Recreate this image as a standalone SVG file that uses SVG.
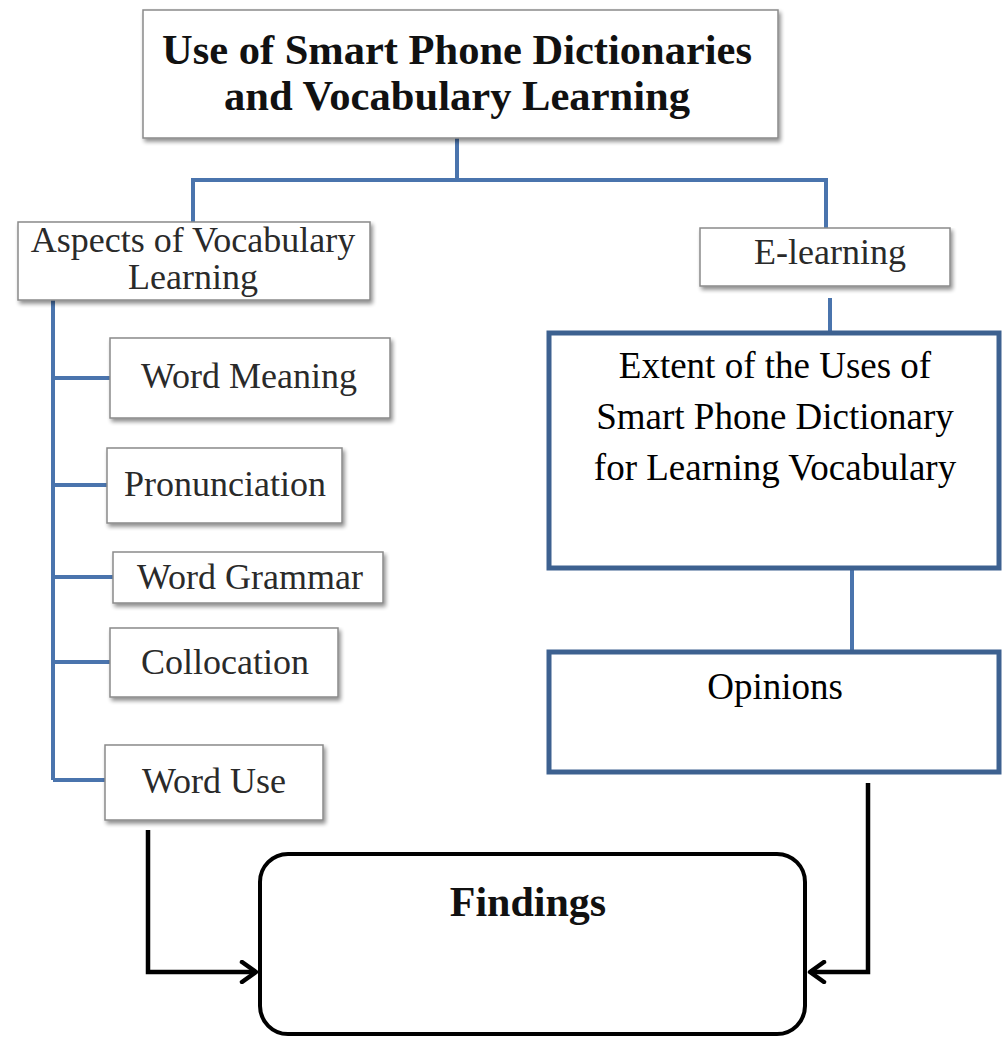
<svg xmlns="http://www.w3.org/2000/svg" width="1005" height="1038" viewBox="0 0 1005 1038">
<defs>
<filter id="sh" x="-5%" y="-5%" width="115%" height="125%">
<feGaussianBlur in="SourceAlpha" stdDeviation="2"/>
<feOffset dx="2" dy="3" result="b"/>
<feComponentTransfer><feFuncA type="linear" slope="0.45"/></feComponentTransfer>
<feMerge><feMergeNode/><feMergeNode in="SourceGraphic"/></feMerge>
</filter>
<marker id="chev" viewBox="0 0 20 24" refX="17" refY="12" markerWidth="20" markerHeight="24" markerUnits="userSpaceOnUse" orient="auto">
<path d="M3,2 L17,12 L3,22" fill="none" stroke="#000" stroke-width="4.5" stroke-linecap="round" stroke-linejoin="round"/>
</marker>
</defs>
<style>
.gbox{fill:#fff;stroke:#8a8a8a;stroke-width:1.5}
.bbox{fill:#fff;stroke:#3d6190;stroke-width:5}
.t{font-family:"Liberation Serif","Times New Roman",serif;fill:#2a2a2a;text-anchor:middle;font-size:36px}
.tb{font-family:"Liberation Serif","Times New Roman",serif;fill:#111;text-anchor:middle;font-weight:bold}
.tk{font-family:"Liberation Serif","Times New Roman",serif;fill:#000;text-anchor:middle;font-size:37px}
.blue{fill:none;stroke:#4a74ad;stroke-width:4}
.blk{fill:none;stroke:#000;stroke-width:4.5}
</style>
<rect width="1005" height="1038" fill="#fff"/>
<g id="connectors">
<path class="blue" d="M457,138 V180 M193,180 H826 M193,178 V222 M826,178 V228"/>
<path class="blue" d="M53,300 V780 M53,378 H110 M53,485 H107 M53,577 H113 M53,662 H110 M53,780 H105"/>
<path class="blue" d="M830,298 V333"/>
<path class="blue" d="M852,568 V652"/>
<path class="blk" d="M148,830 V972 H256" marker-end="url(#chev)"/>
<path class="blk" d="M868,783 V972 H810" stroke-width="6" marker-end="url(#chev)"/>
</g>
<g id="n-main">
<rect class="gbox" x="143" y="10" width="635" height="128" filter="url(#sh)"/>
<text class="tb" x="457" y="64" font-size="42" textLength="590" lengthAdjust="spacingAndGlyphs">Use of Smart Phone Dictionaries</text>
<text class="tb" x="457" y="110" font-size="42" textLength="466" lengthAdjust="spacingAndGlyphs">and Vocabulary  Learning</text>
</g>
<g id="n-aspects">
<rect class="gbox" x="18" y="222" width="352" height="78" filter="url(#sh)"/>
<text class="t" x="193" y="252">Aspects  of Vocabulary</text>
<text class="t" x="193" y="289">Learning</text>
</g>
<g id="n-meaning">
<rect class="gbox" x="110" y="338" width="280" height="80" filter="url(#sh)"/>
<text class="t" x="249" y="388">Word Meaning</text>
</g>
<g id="n-pron">
<rect class="gbox" x="107" y="448" width="235" height="75" filter="url(#sh)"/>
<text class="t" x="225" y="496">Pronunciation</text>
</g>
<g id="n-grammar">
<rect class="gbox" x="113" y="552" width="270" height="51" filter="url(#sh)"/>
<text class="t" x="250" y="589">Word  Grammar</text>
</g>
<g id="n-colloc">
<rect class="gbox" x="110" y="628" width="228" height="69" filter="url(#sh)"/>
<text class="t" x="225" y="674">Collocation</text>
</g>
<g id="n-use">
<rect class="gbox" x="105" y="745" width="218" height="75" filter="url(#sh)"/>
<text class="t" x="214" y="793">Word Use</text>
</g>
<g id="n-elearning">
<rect class="gbox" x="700" y="228" width="250" height="58" filter="url(#sh)"/>
<text class="t" x="830" y="264">E-learning</text>
</g>
<g id="n-extent">
<rect class="bbox" x="549" y="333" width="450" height="235"/>
<text class="tk" x="775" y="378">Extent of the Uses of</text>
<text class="tk" x="775" y="429">Smart Phone Dictionary</text>
<text class="tk" x="775" y="480">for Learning Vocabulary</text>
</g>
<g id="n-opinions">
<rect class="bbox" x="549" y="652" width="450" height="120"/>
<text class="tk" x="775" y="699">Opinions</text>
</g>
<g id="n-findings">
<rect x="260" y="854" width="545" height="180" rx="28" ry="28" fill="#fff" stroke="#000" stroke-width="4"/>
<text class="tb" x="528" y="916" font-size="42" fill="#000">Findings</text>
</g>
</svg>
